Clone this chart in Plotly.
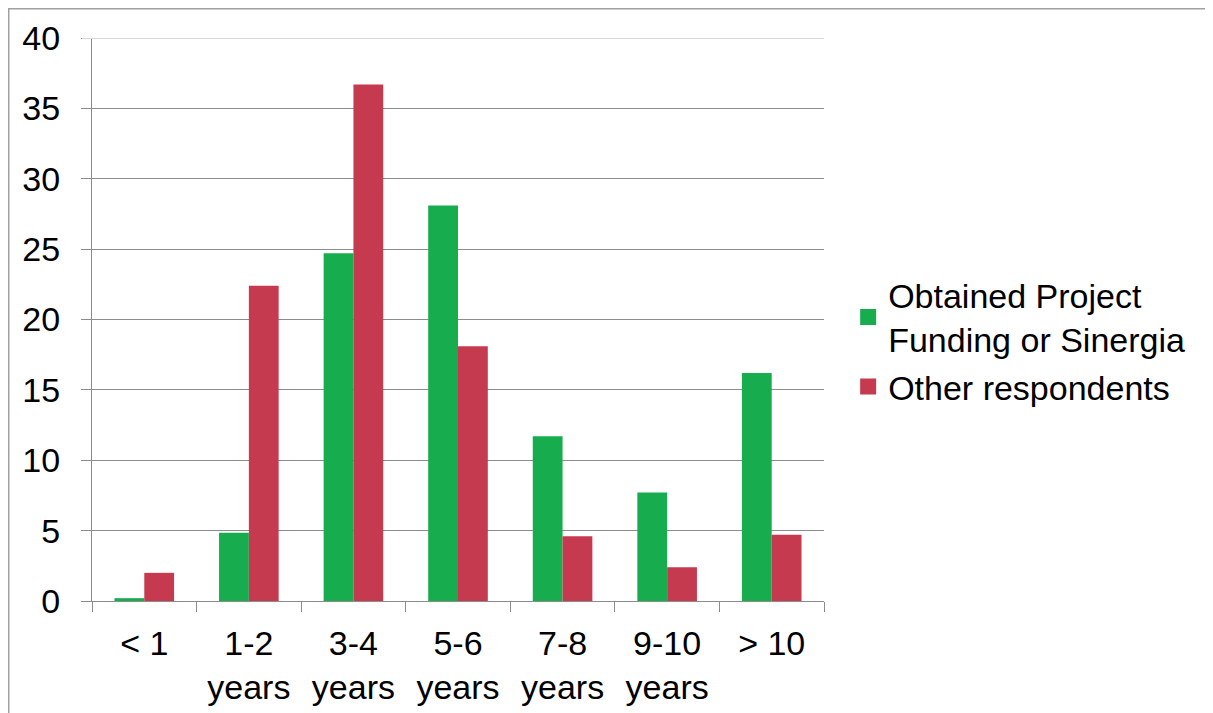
import plotly.graph_objects as go

categories = ["< 1<br>", "1-2<br>years", "3-4<br>years", "5-6<br>years", "7-8<br>years", "9-10<br>years", "> 10<br>"]
funded = [0.2, 4.85, 24.7, 28.1, 11.7, 7.7, 16.2]
others = [2.0, 22.4, 36.7, 18.1, 4.6, 2.4, 4.7]
series_names = ["Obtained Project<br>Funding or Sinergia", "Other respondents"]
colors = ["#17AD4E", "#C63A4F"]
y_ticks = [0, 5, 10, 15, 20, 25, 30, 35, 40]

FONT = dict(family="Liberation Sans, Arial, sans-serif", size=34, color="#000000")

fig = go.Figure()
fig.add_trace(go.Bar(x=categories, y=funded, name=series_names[0], showlegend=False,
                     marker=dict(color=colors[0], line=dict(width=0))))
fig.add_trace(go.Bar(x=categories, y=others, name=series_names[1], showlegend=False,
                     marker=dict(color=colors[1], line=dict(width=0))))
# legend entries with square swatches
for name, col in zip(series_names, colors):
    fig.add_trace(go.Scatter(x=[None], y=[None], mode="markers", name=name,
                             marker=dict(symbol="square", size=16, color=col)))

fig.update_layout(
    width=1213, height=713,
    margin=dict(l=84, r=397, t=30, b=120),
    paper_bgcolor="white", plot_bgcolor="white",
    font=FONT,
    barmode="group", bargap=0.43, bargroupgap=0,
    legend=dict(x=1.033, y=0.462, xanchor="left", yanchor="middle", font=FONT,
                tracegroupgap=6, bgcolor="rgba(0,0,0,0)", itemwidth=30),
    xaxis=dict(type="category", showline=True, linecolor="#8c8c8c", linewidth=1,
               ticks="outside", tickson="boundaries", ticklen=10, tickcolor="#8c8c8c",
               showgrid=False, tickfont=FONT, ticklabelstandoff=12),
    yaxis=dict(range=[0, 40], tickvals=y_ticks, showline=True, linecolor="#8c8c8c", linewidth=1,
               ticks="outside", ticklen=10, tickcolor="#8c8c8c",
               showgrid=True, gridcolor="#8c8c8c", gridwidth=1, zeroline=False,
               tickfont=FONT, ticklabelstandoff=14),
    shapes=[
        dict(type="rect", xref="paper", yref="paper", x0=-0.1141, x1=1.6, y0=-0.3, y1=1.0524,
             line=dict(color="#a0a0a0", width=2), layer="below"),
        dict(type="line", xref="paper", yref="y", x0=-0.0137, x1=1, y0=40, y1=40,
             line=dict(color="#d9d9d9", width=2), layer="above"),
    ],
)

fig.write_html("out.html")
